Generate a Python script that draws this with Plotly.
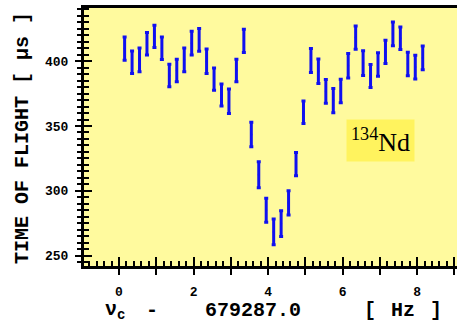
import plotly.graph_objects as go

# frequency offset (Hz) relative to 679287.0 Hz
freq = [0.15 + 0.2 * i for i in range(41)]
tof = [409.7, 399.2, 401.0, 413.4, 419.1, 410.0, 388.9, 392.8, 401.0, 413.9,
       416.4, 399.9, 386.2, 373.9, 369.1, 392.8, 415.7, 343.4, 312.4, 285.0,
       268.3, 274.7, 290.7, 320.6, 360.6, 400.5, 392.2, 376.7, 369.6, 377.0,
       396.5, 418.2, 398.5, 388.6, 397.4, 407.2, 421.0, 417.7, 397.8, 395.4,
       402.5]
tof_err = [9.0, 8.7, 9.2, 8.7, 8.6, 8.7, 8.7, 8.7, 9.2, 9.2,
           8.7, 9.5, 8.6, 8.4, 9.4, 8.7, 9.0, 9.4, 10.0, 9.2,
           10.0, 10.0, 9.4, 9.0, 8.6, 9.2, 9.4, 9.2, 9.4, 9.1,
           9.4, 9.0, 9.5, 8.9, 9.0, 9.0, 9.2, 8.7, 9.1, 9.2,
           9.2]

x_tickvals = list(range(0, 10))
x_ticktext = [str(v) if v % 2 == 0 else "" for v in x_tickvals]
y_tickvals = [250, 300, 350, 400]
y_ticktext = ["250", "300", "350", "400"]

XR = [-0.94, 9.07]
YR = [242, 441]
BLUE = "#1010F0"
TICKFONT = dict(family="Liberation Mono", size=13, color="black", weight="bold")

fig = go.Figure()
fig.add_trace(go.Scatter(
    x=freq, y=tof, mode="markers",
    marker=dict(size=2, color=BLUE),
    error_y=dict(type="data", array=tof_err, visible=True,
                 color=BLUE, thickness=3, width=2),
    showlegend=False, hoverinfo="skip"))
fig.add_trace(go.Scatter(x=[None], y=[None], xaxis="x2", yaxis="y2",
                         showlegend=False, hoverinfo="skip"))

fig.update_layout(
    width=457, height=320,
    margin=dict(l=84, r=0, t=8, b=54, autoexpand=False),
    paper_bgcolor="white",
    plot_bgcolor="#FFFA9E",
    xaxis=dict(range=XR, tickmode="array", tickvals=x_tickvals, ticktext=x_ticktext,
               ticks="outside", ticklen=6, tickwidth=2, tickcolor="black",
               minor=dict(dtick=0.2, tick0=0, ticks="inside", ticklen=5,
                          tickwidth=1.5, tickcolor="black", showgrid=False),
               showline=True, linewidth=3, linecolor="black", mirror=True,
               showgrid=False, zeroline=False, tickfont=TICKFONT,
               ticklabelstandoff=5, automargin=False),
    xaxis2=dict(range=XR, overlaying="x", anchor="y", side="bottom",
                tickmode="array", tickvals=x_tickvals,
                ticks="inside", ticklen=9, tickwidth=2, tickcolor="black",
                showticklabels=False, showline=False, showgrid=False, zeroline=False,
                automargin=False),
    yaxis=dict(range=YR, tickmode="array", tickvals=y_tickvals, ticktext=y_ticktext,
               ticks="outside", ticklen=6, tickwidth=2, tickcolor="black",
               minor=dict(dtick=5, tick0=0, ticks="outside", ticklen=4,
                          tickwidth=2, tickcolor="black", showgrid=False),
               showline=True, linewidth=3, linecolor="black", mirror=False,
               showgrid=False, zeroline=False, tickfont=TICKFONT,
               ticklabelstandoff=4, automargin=False),
    yaxis2=dict(range=YR, overlaying="y", anchor="x", side="left",
                tickmode="array", tickvals=y_tickvals,
                ticks="inside", ticklen=8, tickwidth=2, tickcolor="black",
                minor=dict(dtick=5, tick0=0, ticks="inside", ticklen=5,
                           tickwidth=2, tickcolor="black", showgrid=False),
                showticklabels=False, showline=False, showgrid=False, zeroline=False,
                automargin=False),
)

TITLEFONT = dict(family="Liberation Mono", size=20, color="black", weight="bold")
# y-axis title
fig.add_annotation(text="TIME OF FLIGHT [ µs ]", xref="paper", yref="paper",
                   x=-0.166, y=0.496, textangle=-90, showarrow=False,
                   xanchor="center", yanchor="middle",
                   font=dict(family="Liberation Mono", size=20, color="black", weight="bold"))
# x-axis title pieces
for txt, px in [("ν<sub>c</sub>", 0.083), ("-", 0.182), ("679287.0", 0.452),
                ("[", 0.767), ("Hz", 0.855), ("]", 0.945)]:
    fig.add_annotation(text=txt, xref="paper", yref="paper", x=px, y=-0.171,
                       showarrow=False, xanchor="center", yanchor="middle",
                       font=TITLEFONT)
# isotope label
fig.add_annotation(text="<sup>134</sup>Nd", xref="x", yref="y", x=7.03, y=339,
                   showarrow=False, xanchor="center", yanchor="middle",
                   bgcolor="#FFF35E", borderpad=4,
                   font=dict(family="Liberation Serif", size=26, color="black"))

fig.write_html("out.html", config={"displayModeBar": False},
               post_script="document.body.style.margin='0';")
